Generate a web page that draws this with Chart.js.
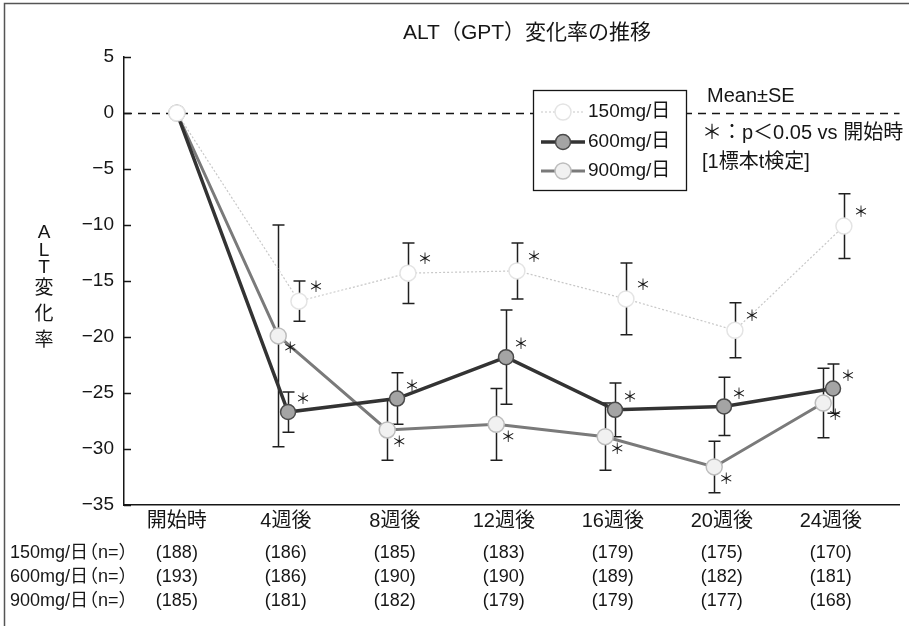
<!DOCTYPE html>
<html>
<head>
<meta charset="utf-8">
<script src="https://cdn.jsdelivr.net/npm/chart.js@4.4.1/dist/chart.umd.min.js"></script>
<style>
  html, body { margin: 0; padding: 0; background: #fff; }
  #wrap { width: 909px; height: 626px; position: relative; }
</style>
</head>
<body>
<div id="wrap"><canvas id="chart" width="909" height="626"></canvas></div>
<script>
// ALT (GPT) percent change from baseline, mean ± SE by dose group
const categories = ['開始時', '4週後', '8週後', '12週後', '16週後', '20週後', '24週後'];
const seriesNames = ['150mg/日', '600mg/日', '900mg/日'];

const mean150 = [0, -16.8, -14.3, -14.1, -16.6, -19.4, -10.1];
const se150   = [0, 1.8, 2.7, 2.5, 3.2, 2.45, 2.9];
const mean600 = [0, -26.7, -25.5, -21.8, -26.5, -26.2, -24.6];
const se600   = [0, 1.8, 2.3, 4.2, 2.4, 2.6, 2.2];
const mean900 = [0, -19.9, -28.3, -27.8, -28.9, -31.6, -25.9];
const se900   = [0, 9.9, 2.7, 3.2, 3.0, 2.3, 3.1];

// significance vs baseline (one-sample t-test)
const sig150 = [false, true, true, true, true, true, true];
const sig600 = [false, true, true, true, true, true, true];
const sig900 = [false, true, true, true, true, true, true];

// number of subjects at each visit
const n150 = [188, 186, 185, 183, 179, 175, 170];
const n600 = [193, 186, 190, 190, 189, 182, 181];
const n900 = [185, 181, 182, 179, 179, 177, 168];

const yTicks = [5, 0, -5, -10, -15, -20, -25, -30, -35];

const titleText = 'ALT（GPT）変化率の推移';
const yTitle = ['A', 'L', 'T', '変', '化', '率'];
const noteLines = ['Mean±SE', '＊：p＜0.05 vs 開始時', '[1標本t検定]'];

const FONT = "'Liberation Sans', 'Noto Sans CJK JP', sans-serif";
const INK = '#161616';

// small horizontal dodge so the error bars of the three groups do not overlap
const dodge = [0.12, 0.02, -0.07];

const styles = [
  { line: '#c8c8c8', width: 1.2, dash: [2, 2], fill: '#ffffff', border: '#e4e4e4', radius: 8, star: [17, -13] },
  { line: '#333333', width: 3.5, dash: [], fill: '#a4a4a4', border: '#4a4a4a', radius: 7.5, star: [15, -12] },
  { line: '#7a7a7a', width: 3, dash: [], fill: '#f1f1f1', border: '#bdbdbd', radius: 8, star: [12, 13] }
];

const means = [mean150, mean600, mean900];
const ses = [se150, se600, se900];
const sigs = [sig150, sig600, sig900];
const counts = [n150, n600, n900];

function toPoints(arr, dx) {
  return arr.map((v, i) => ({ x: i + (i === 0 ? 0 : dx), y: v }));
}

const datasets = seriesNames.map((name, k) => ({
  label: name,
  data: toPoints(means[k], dodge[k]),
  borderColor: styles[k].line,
  borderWidth: styles[k].width,
  borderDash: styles[k].dash,
  pointRadius: styles[k].radius,
  pointBackgroundColor: styles[k].fill,
  pointBorderColor: styles[k].border,
  pointBorderWidth: 1.5,
  tension: 0
}));

const decorations = {
  id: 'decorations',
  beforeDraw(chart) {
    const ctx = chart.ctx;
    ctx.save();
    ctx.fillStyle = '#fff';
    ctx.fillRect(0, 0, chart.width, chart.height);
    // outer frame
    ctx.strokeStyle = '#555';
    ctx.lineWidth = 1.5;
    ctx.beginPath();
    ctx.moveTo(4.5, chart.height);
    ctx.lineTo(4.5, 3.5);
    ctx.lineTo(chart.width, 3.5);
    ctx.stroke();
    ctx.restore();
  },
  beforeDatasetsDraw(chart) {
    const ctx = chart.ctx;
    const area = chart.chartArea;
    const ys = chart.scales.y;
    ctx.save();
    // inward tick marks on the y axis
    ctx.strokeStyle = INK;
    ctx.lineWidth = 1.5;
    yTicks.forEach(v => {
      const py = Math.round(ys.getPixelForValue(v)) + 0.5;
      ctx.beginPath();
      ctx.moveTo(area.left, py);
      ctx.lineTo(area.left + 7, py);
      ctx.stroke();
    });
    // dashed zero reference line
    const y0 = Math.round(ys.getPixelForValue(0)) + 0.5;
    ctx.setLineDash([8, 6]);
    ctx.beginPath();
    ctx.moveTo(area.left, y0);
    ctx.lineTo(area.right, y0);
    ctx.stroke();
    ctx.setLineDash([]);
    // error bars (drawn under the markers)
    ctx.strokeStyle = '#202020';
    ctx.lineWidth = 1.5;
    chart.data.datasets.forEach((ds, k) => {
      const meta = chart.getDatasetMeta(k);
      meta.data.forEach((pt, i) => {
        const se = ses[k][i];
        if (!se) return;
        const top = ys.getPixelForValue(means[k][i] + se);
        const bot = ys.getPixelForValue(means[k][i] - se);
        const x = Math.round(pt.x) + 0.5;
        ctx.beginPath();
        ctx.moveTo(x, top);
        ctx.lineTo(x, bot);
        ctx.moveTo(x - 6, top);
        ctx.lineTo(x + 6, top);
        ctx.moveTo(x - 6, bot);
        ctx.lineTo(x + 6, bot);
        ctx.stroke();
      });
    });
    ctx.restore();
  },
  afterDatasetsDraw(chart) {
    const ctx = chart.ctx;
    ctx.save();
    ctx.fillStyle = INK;
    ctx.font = `15px ${FONT}`;
    ctx.textAlign = 'center';
    ctx.textBaseline = 'middle';
    chart.data.datasets.forEach((ds, k) => {
      const meta = chart.getDatasetMeta(k);
      meta.data.forEach((pt, i) => {
        if (!sigs[k][i]) return;
        ctx.fillText('＊', pt.x + styles[k].star[0], pt.y + styles[k].star[1]);
      });
    });
    ctx.restore();
  },
  afterDraw(chart) {
    const ctx = chart.ctx;
    const xs = chart.scales.x;
    ctx.save();
    ctx.fillStyle = INK;
    ctx.textBaseline = 'middle';

    // title
    ctx.font = `21px ${FONT}`;
    ctx.textAlign = 'center';
    ctx.fillText(titleText, 527, 33);

    // vertical y axis title, one character per row
    ctx.font = `19px ${FONT}`;
    let ty = 233;
    yTitle.forEach(ch => {
      const wide = ch.charCodeAt(0) > 255;
      if (wide) ty += 3;
      ctx.fillText(ch, 44, ty);
      ty += wide ? 23 : 17.5;
    });

    // legend box
    const lx = 533.5, ly = 90.5, lw = 153, lh = 100;
    ctx.fillStyle = '#fff';
    ctx.fillRect(lx, ly, lw, lh);
    ctx.strokeStyle = INK;
    ctx.lineWidth = 1.3;
    ctx.strokeRect(lx, ly, lw, lh);
    const rowsY = [112, 142, 171];
    chart.data.datasets.forEach((ds, k) => {
      const st = styles[k];
      const yy = rowsY[k];
      ctx.strokeStyle = st.line;
      ctx.lineWidth = st.width;
      ctx.setLineDash(st.dash);
      ctx.beginPath();
      ctx.moveTo(541, yy);
      ctx.lineTo(585, yy);
      ctx.stroke();
      ctx.setLineDash([]);
      ctx.beginPath();
      ctx.arc(563, yy, st.radius, 0, Math.PI * 2);
      ctx.fillStyle = st.fill;
      ctx.fill();
      ctx.strokeStyle = st.border;
      ctx.lineWidth = 1.5;
      ctx.stroke();
      ctx.fillStyle = INK;
      ctx.font = `19px ${FONT}`;
      ctx.textAlign = 'left';
      ctx.fillText(ds.label, 588, yy);
    });

    // notes
    ctx.font = `20px ${FONT}`;
    ctx.textAlign = 'left';
    ctx.fillText(noteLines[0], 707, 96);
    ctx.fillText(noteLines[1], 702, 133);
    ctx.fillText(noteLines[2], 702, 162);

    // subject counts table
    const tableY = [553, 577, 601];
    ctx.font = `18px ${FONT}`;
    seriesNames.forEach((name, k) => {
      ctx.textAlign = 'left';
      ctx.fillText(name, 10, tableY[k]);
      ctx.fillText('（n=）', 80, tableY[k]);
      ctx.textAlign = 'center';
      counts[k].forEach((n, i) => {
        ctx.fillText(`(${n})`, xs.getPixelForValue(i), tableY[k]);
      });
    });
    ctx.restore();
  }
};

new Chart(document.getElementById('chart'), {
  type: 'line',
  data: { datasets },
  options: {
    responsive: false,
    devicePixelRatio: 1,
    animation: false,
    layout: { padding: { top: 57, right: 7, left: 0, bottom: 0 } },
    plugins: {
      legend: { display: false },
      title: { display: false },
      tooltip: { enabled: false }
    },
    scales: {
      x: {
        type: 'linear',
        min: -0.485,
        max: 6.63,
        afterBuildTicks(scale) {
          scale.ticks = categories.map((c, i) => ({ value: i }));
        },
        afterFit(scale) { scale.height = 121; },
        ticks: {
          callback: v => categories[v],
          font: { family: FONT, size: 20 },
          color: INK,
          padding: 4,
          maxRotation: 0,
          autoSkip: false
        },
        grid: { display: false, drawTicks: false },
        border: { display: true, color: INK, width: 1.5 }
      },
      y: {
        min: -35,
        max: 5,
        afterBuildTicks(scale) {
          scale.ticks = yTicks.map(v => ({ value: v }));
        },
        afterFit(scale) { scale.width = 124; },
        ticks: {
          callback: v => String(v).replace('-', '−'),
          font: { family: FONT, size: 19 },
          color: INK,
          padding: 10
        },
        grid: { display: false, drawTicks: false },
        border: { display: true, color: INK, width: 1.5 }
      }
    }
  },
  plugins: [decorations]
});
</script>
</body>
</html>
